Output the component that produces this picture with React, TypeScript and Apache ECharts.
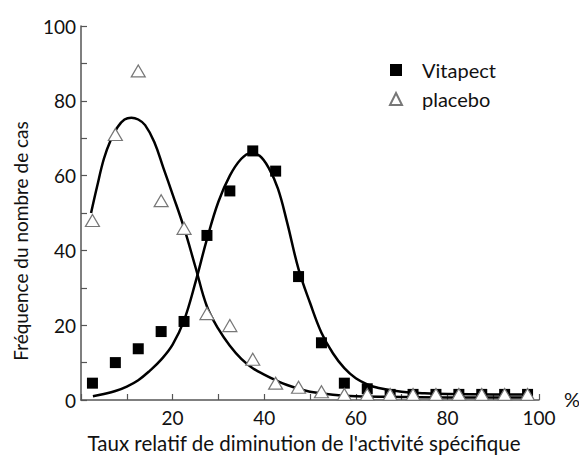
import React, { useEffect, useRef } from "react";
import * as echarts from "echarts";

// Class positions (% of diminution), centres of 5-point classes
const classX = [2.5, 7.5, 12.5, 17.5, 22.5, 27.5, 32.5, 37.5, 42.5, 47.5, 52.5, 57.5, 62.5, 67.5, 72.5, 77.5, 82.5, 87.5, 92.5, 97.5];
const vitapectValues = [4.5, 10, 13.7, 18.3, 21, 44, 55.9, 66.6, 61.2, 33, 15.3, 4.5, 3, 1.5, 1.5, 1.5, 1.5, 1.5, 1.5, 1.5];
const placeboValues = [48, 71, 88, 53.3, 45.9, 23.1, 19.9, 10.9, 4.5, 3.4, 2.2, 1.5, 1.5, 1.5, 1.5, 1.5, 1.5, 1.5, 1.5, 1.5];

// Fitted curves
const vitapectCurve: [number, number][] = [
  [2.6, 1], [5, 1.6], [7.5, 2.4], [10, 3.6], [12.5, 5.3], [15, 7.8], [17.5, 10.8], [20, 14.8],
  [22.5, 21.3], [25, 31.5], [27.5, 43], [30, 53], [32.5, 60], [35, 64.5], [37, 66], [39, 65.3],
  [41, 62], [43, 56.5], [45, 47.5], [47.5, 35], [50, 26], [52.5, 18], [55, 12.5], [57.5, 8.5],
  [60, 5.8], [62.5, 4.2], [65, 3.2], [70, 2.2], [75, 1.8], [80, 1.6], [90, 1.5], [98, 1.5],
];
const placeboCurve: [number, number][] = [
  [2.2, 50], [3.5, 57], [5, 64.5], [6.5, 69.5], [8, 73], [9.5, 75], [11, 75.5], [12.5, 75],
  [14, 73.5], [16, 69], [18, 62], [20, 55], [22.5, 46], [25, 35.5], [27.5, 25], [30, 19],
  [32.5, 14.5], [35, 11], [37.5, 8.5], [40, 6.8], [42.5, 5.3], [45, 4], [47.5, 3], [50, 2.2],
  [55, 1.4], [60, 1], [70, 0.8], [80, 0.7], [90, 0.7], [98, 0.7],
];

const xTickLabels = ["20", "40", "60", "80", "100"];
const seriesNames = ["Vitapect", "placebo"];

const FONT = "Lato";

export default function App() {
  const ref = useRef<HTMLDivElement>(null);
  useEffect(() => {
    if (!ref.current) return;
    const chart = echarts.init(ref.current, null, { renderer: "svg" });
    const axisLine = { show: true, lineStyle: { color: "#555", width: 1.5 } };
    chart.setOption({
      animation: false,
      backgroundColor: "#fff",
      textStyle: { fontFamily: FONT },
      grid: { left: 81, right: 40, top: 26, bottom: 59, containLabel: false },
      legend: {
        data: seriesNames,
        orient: "vertical",
        left: 384,
        top: 55,
        itemWidth: 12,
        itemHeight: 12,
        itemGap: 9,
        textStyle: { fontFamily: FONT, fontSize: 20, color: "#111", padding: [0, 0, 0, 15] },
      },
      xAxis: {
        type: "value",
        min: 0,
        max: 100,
        interval: 20,
        axisLine,
        axisTick: { show: true, inside: true, length: 6, lineStyle: { color: "#555", width: 1.2 } },
        minorTick: { show: true, splitNumber: 2, length: 6, lineStyle: { color: "#555", width: 1.2 } },
        splitLine: { show: false },
        axisLabel: {
          margin: 8,
          fontFamily: FONT,
          fontSize: 19,
          color: "#111",
          formatter: (v: number) => (xTickLabels.includes(String(v)) ? String(v) : ""),
        },
      },
      yAxis: {
        type: "value",
        min: 0,
        max: 100,
        interval: 20,
        axisLine,
        axisTick: { show: true, inside: true, length: 6, lineStyle: { color: "#555", width: 1.2 } },
        minorTick: { show: true, splitNumber: 2, length: 6, lineStyle: { color: "#555", width: 1.2 } },
        splitLine: { show: false },
        axisLabel: { margin: 5, fontFamily: FONT, fontSize: 19, color: "#111" },
      },
      graphic: [
        {
          type: "text",
          x: 20,
          y: 241,
          rotation: Math.PI / 2,
          style: {
            text: "Fréquence du nombre de cas",
            fontFamily: FONT,
            fontSize: 19,
            fill: "#111",
            align: "center",
            verticalAlign: "middle",
          },
        },
        {
          type: "text",
          x: 304,
          y: 443,
          style: {
            text: "Taux relatif de diminution de l'activité spécifique",
            fontFamily: FONT,
            fontSize: 20.5,
            fill: "#111",
            align: "center",
            verticalAlign: "middle",
          },
        },
        {
          type: "text",
          x: 572,
          y: 399,
          style: { text: "%", fontFamily: FONT, fontSize: 20, fill: "#111", align: "center", verticalAlign: "middle" },
        },
      ],
      series: [
        {
          name: "Vitapect courbe",
          type: "line",
          data: vitapectCurve,
          smooth: 0.4,
          showSymbol: false,
          symbol: "none",
          lineStyle: { color: "#000", width: 2.5 },
          z: 2,
        },
        {
          name: "placebo courbe",
          type: "line",
          data: placeboCurve,
          smooth: 0.4,
          showSymbol: false,
          symbol: "none",
          lineStyle: { color: "#000", width: 2.5 },
          z: 2,
        },
        {
          name: "Vitapect",
          type: "scatter",
          symbol: "rect",
          symbolSize: 11,
          data: classX.map((x, i) => [x, vitapectValues[i]]),
          itemStyle: { color: "#000", opacity: 1 },
          z: 3,
        },
        {
          name: "placebo",
          type: "scatter",
          symbol: "triangle",
          symbolSize: [14, 12],
          data: classX.map((x, i) => [x, placeboValues[i]]),
          itemStyle: { color: "#fff", borderColor: "#777", borderWidth: 1.2, opacity: 1 },
          z: 4,
        },
      ],
    });
    return () => chart.dispose();
  }, []);
  return <div ref={ref} style={{ width: 579, height: 459, position: "absolute", left: 0, top: 0 }} />;
}
